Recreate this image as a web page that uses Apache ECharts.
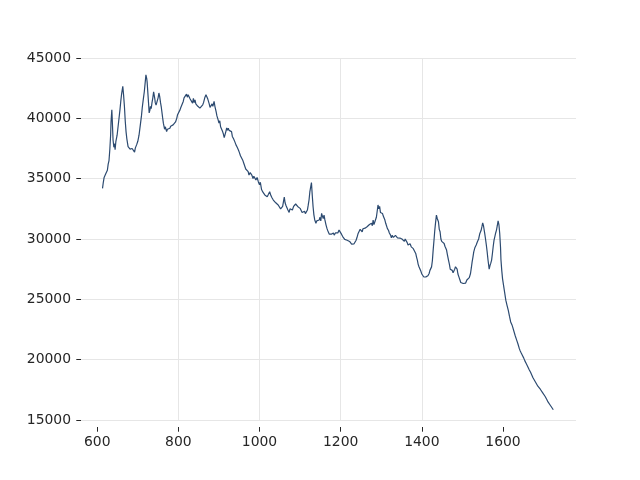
<!DOCTYPE html>
<html>
<head>
<meta charset="utf-8">
<script src="https://cdn.jsdelivr.net/npm/echarts@6/dist/echarts.min.js"></script>
<style>html,body{margin:0;padding:0;background:#fff}#c{width:640px;height:480px}</style>
</head>
<body>
<div id="c"></div>
<script>
const xTicks = [600, 800, 1000, 1200, 1400, 1600];
const yTicks = [15000, 20000, 25000, 30000, 35000, 40000, 45000];

// [wavenumber, intensity]
const spectrumA = [
[613,34200],[615,34700],[617,35100],[619,34950],[621,35400],[623,35500],[625,35700],[627,36200],[629,36500],[631,37400],
[633,38600],[634,39700],[636,40700],[637,39900],[639,38200],[641,37600],[643,37900],[644,37400],[646,38100],[649,38600],
[651,39200],[653,39800],[656,40700],[658,41400],[660,42000],[663,42650],[665,41900],[667,41000],[669,39800],[671,38900],
[673,38300],[676,37650],[678,37500],[681,37450],[684,37300],[686,37500],[689,37400],[692,37200],[694,37550],[697,37800],
[700,38100],[703,38600],[706,39400],[709,40200],[711,40900],[714,41700],[716,42200],[718,42900],[720,43600],[722,43300],
[723,43000],[725,42000],[727,41000],[728,40450],[730,40700],[731,41000],[733,40800],[735,41300],[737,41700],[739,42200],
[740,42000],[742,41600],[743,41300],[745,41100],[748,41260],[750,41700],[752,42100],[754,41800],[756,41300],[758,40900],
[761,40100],[763,39600],[764,39450],[766,39100],[768,39300],[771,38900],[773,39100],[775,38950],[777,39250],[779,39180],
[781,39350],[783,39250],[785,39450],[787,39460],[790,39600],[793,39700],[796,40000],[798,40300],[801,40350],[804,40700],
[806,40900],[809,41050],[812,41400],[814,41700],[817,41800],[820,42000],[822,41750],[824,41950],[827,41850],[829,41600],
[832,41500],[835,41260],[837,41650],[839,41300],[841,41530],[843,41200],[846,41260],[848,41000],[850,41150],[853,40850],
[855,41000],[857,40800],[860,41120],[862,41300],[865,41700],[868,41950],[870,41800],[872,41650],[874,41540],[876,41200],
[878,40900],[880,40850],[883,41200],[885,41000],[888,41400],[890,41000],[893,40560],[895,40200],[898,39870],[900,39600],
[902,39800],[904,39300],[907,39180],[909,38900],[911,38700],[913,38400],[915,38490],[917,38900],[919,39200],[921,39000],
[923,39180],[925,39000],[928,39100],[931,38900],[933,38500],[936,38300],[939,38070],[942,37800],[945,37600],[948,37380],
[950,37200],[953,36900],[956,36830],[959,36500],[961,36300],[964,36140],[966,35800],[969,35700],[972,35580],[974,35300],
[977,35500],[981,35300],[984,35000],[986,35200],[989,35170],[991,34900],[994,35100],[997,34750],[1000,34500],[1002,34700]
];
const spectrumB = [
[1005,34100],[1008,33900],[1010,34000],[1013,33650],[1016,33800],[1019,33500],[1022,33700],[1025,33920],[1028,33600],[1031,33400],
[1034,33230],[1037,33300],[1040,33000],[1043,33100],[1046,32820],[1049,32700],[1052,32500],[1054,32540],[1057,32700],[1059,33100],
[1061,33480],[1063,33000],[1065,32800],[1067,32680],[1070,32400],[1073,32200],[1075,32500],[1078,32540],[1081,32400],[1084,32700],
[1087,32600],[1089,32900],[1091,32960],[1094,32700],[1097,32800],[1100,32540],[1103,32400],[1105,32200],[1108,32120],[1111,32300],
[1113,32100],[1116,32120],[1118,32400],[1120,32800],[1122,33230],[1124,33900],[1126,34300],[1128,34670],[1130,33600],[1132,32670],
[1134,32000],[1136,31600],[1139,31300],[1141,31500],[1144,31350],[1147,31570],[1149,31800],[1151,31500],[1153,32120],[1155,31900],
[1157,31700],[1159,31980],[1161,31600],[1164,31150],[1166,30900],[1168,30700],[1170,30600],[1172,30400],[1175,30240],[1177,30400],
[1180,30250],[1182,30500],[1184,30320],[1187,30500],[1190,30600],[1193,30500],[1196,30740],[1199,30600],[1202,30400],[1205,30200],
[1207,30100],[1210,29970],[1213,30100],[1216,29900],[1219,30040],[1222,29800],[1225,29700],[1227,29580],[1230,29650],[1233,29600],
[1235,29760],[1238,29900],[1240,30100],[1243,30460],[1245,30600],[1248,30800],[1250,30880],[1253,30600],[1255,30850],[1258,30700],
[1260,30900],[1263,30800],[1265,31020],[1268,30950],[1271,31200],[1274,31150],[1276,31300],[1278,31100],[1280,31570],[1282,31200],
[1284,31350],[1286,31300],[1288,31800],[1290,32300],[1292,32820],[1294,32500],[1296,32700],[1298,32200],[1300,32300],[1303,32120],
[1305,31900],[1307,31800],[1309,31570],[1311,31300],[1313,31100],[1315,30880],[1318,30700],[1320,30500],[1323,30320],[1325,30100],
[1327,30300],[1330,30130],[1332,30000],[1335,30300],[1338,30240],[1340,30100],[1343,30150],[1346,30080],[1348,29950],[1351,30000],
[1354,29910],[1357,29800],[1359,30000],[1362,29970],[1364,29700],[1366,29500],[1369,29490],[1371,29600],[1374,29350],[1377,29300]
];
const spectrumC = [
[1379,29200],[1381,29150],[1383,29100],[1385,28800],[1387,28500],[1389,28250],[1391,27900],[1393,27700],[1395,27560],[1398,27300],
[1400,27100],[1403,27000],[1405,26850],[1407,26900],[1410,26860],[1412,27000],[1415,26950],[1418,27140],[1420,27400],[1422,27300],
[1424,27690],[1426,28200],[1428,29100],[1430,29900],[1432,30740],[1434,31400],[1436,31980],[1438,31700],[1441,31430],[1443,30800],
[1445,30600],[1447,30000],[1449,29800],[1452,29900],[1455,29630],[1457,29400],[1459,29350],[1461,29080],[1463,28700],[1466,28200],
[1468,27900],[1470,27500],[1473,27350],[1475,27400],[1477,27200],[1479,27140],[1481,27500],[1483,27700],[1485,27830],[1487,27500],
[1489,27100],[1492,26800],[1494,26600],[1496,26400],[1499,26500],[1502,26310],[1505,26450],[1508,26350],[1511,26600],[1514,26590],
[1517,26800],[1520,27140],[1522,27600],[1524,28100],[1526,28500],[1528,28940],[1531,29300],[1534,29500],[1537,29770],[1540,30000],
[1543,30460],[1546,30700],[1548,31000],[1550,31340],[1552,31100],[1555,30460],[1557,30000],[1559,29500],[1561,28940],[1563,28300],
[1566,27500],[1568,27800],[1570,28000],[1572,28250],[1574,28800],[1576,29400],[1578,29910],[1580,30200],[1582,30500],[1584,30740],
[1586,31100],[1588,31500],[1590,31200],[1592,30460],[1594,29300],[1595,28300],[1597,27400],[1599,26700],[1602,26030],[1604,25600],
[1607,24930],[1610,24500],[1613,24100],[1616,23600],[1619,23130],[1622,22900],[1624,22700],[1627,22600],[1630,22000],[1634,21600],
[1637,21300],[1640,20950],[1642,20770],[1645,20550],[1648,20350],[1651,20150],[1654,19900],[1657,19700],[1660,19500],[1662,19390],
[1665,19150],[1668,18950],[1671,18800],[1674,18500],[1677,18350],[1680,18150],[1683,18000],[1686,17800],[1689,17700],[1692,17550],
[1695,17450],[1698,17250],[1701,17100],[1704,16950],[1708,16700],[1711,16500],[1714,16350],[1717,16200],[1720,16060],[1722,15950],
[1724,15850]
];

const spectrum = spectrumA.concat(spectrumB, spectrumC);

const chart = echarts.init(document.getElementById('c'), null, {renderer: 'canvas'});
const tickColor = '#262626';
const labelFont = {color: '#262626', fontSize: 13.9, fontFamily: 'DejaVu Sans', formatter: v => String(v)};
chart.setOption({
  animation: false,
  backgroundColor: '#ffffff',
  grid: {left: 81, right: 64, top: 58, bottom: 60, containLabel: false},
  xAxis: {
    type: 'value', min: 560, max: 1780, offset: 7,
    axisLine: {show: false},
    axisTick: {show: true, length: 4.7, customValues: xTicks, lineStyle: {color: tickColor, width: 1}},
    axisLabel: Object.assign({margin: 8, customValues: xTicks}, labelFont),
    splitLine: {show: true, showMinLine: false, showMaxLine: false, lineStyle: {color: '#e6e6e6', width: 1}}
  },
  yAxis: {
    type: 'value', min: 15000, max: 45000, interval: 5000,
    axisLine: {show: false},
    axisTick: {show: true, length: 4.7, lineStyle: {color: tickColor, width: 1}},
    axisLabel: Object.assign({margin: 10}, labelFont),
    splitLine: {show: true, lineStyle: {color: '#e6e6e6', width: 1}}
  },
  series: [{
    type: 'line', data: spectrum, showSymbol: false, symbol: 'none',
    lineStyle: {color: '#2c4a70', width: 1.2}, z: 3
  }]
});
</script>
</body>
</html>
